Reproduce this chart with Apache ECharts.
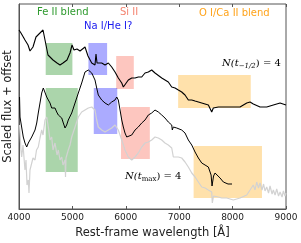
<!DOCTYPE html>
<html><head><meta charset="utf-8">
<script src="https://cdn.jsdelivr.net/npm/echarts@6/dist/echarts.min.js"></script>
<style>html,body{margin:0;padding:0;background:#fff}#c{width:301px;height:243px}</style>
</head><body><div id="c"></div>
<script>
// Spectrum at t_{-1/2} (top, black)
const topWave = [4000,4037,4112,4169,4206,4262,4318,4393,4450,4487,4543,4637,4712,4768,4824,4899,4955,4993,5030,5086,5143,5236,5292,5362,5423,5442,5461,5485,5549,5611,5673,5736,5798,5860,5924,5954,5985,6047,6111,6173,6234,6298,6360,6422,6485,6547,6673,6796,6860,6890,6922,6984,7047,7109,7171,7235,7297,7422,7546,7609,7639,7733,7858,7890,8014,8139,8265,8327,8388,8514,8639,8763,8889,9000];
const topFlux = [179,176,169,164,158,162,172,176,179,169,154,149,146,144,146,149,156,164,159,160,158,162,153,146,144,155,146,147,146,144,146,142,137,131,126,122,124,129,131,131,132,132,136,137,139,136,131,127,122,121,121,119,117,114,109,109,108,106,104,97,101,102,102,101,102,102,106,107,105,102,102,104,106,104];
// Spectrum at t_max (middle, black)
const midWave = [4010,4019,4080,4112,4144,4174,4206,4238,4300,4332,4361,4393,4425,4455,4487,4519,4549,4581,4612,4642,4674,4706,4736,4800,4830,4862,4893,4923,4987,5049,5111,5174,5236,5298,5362,5423,5455,5485,5549,5611,5673,5736,5798,5830,5860,5892,5924,5954,5985,6017,6047,6111,6173,6234,6298,6360,6422,6485,6547,6609,6673,6734,6796,6860,6871,6890,6922,6954,6984,7047,7109,7171,7235,7297,7359,7422,7484,7546,7597,7615,7643,7671,7703,7765,7827,7858,7914,7989];
const midFlux = [112,92,72,66,62,66,66,72,79,86,96,106,116,121,119,112,109,106,101,99,101,97,94,91,86,81,84,89,96,106,116,126,137,139,136,129,121,114,109,106,104,107,109,112,109,99,89,82,76,72,71,74,79,82,86,89,94,96,99,97,94,91,87,84,79,82,84,81,82,79,76,69,64,57,51,46,44,42,34,23,33,36,37,31,27,26,25,25];
// Comparison spectrum (light grey)
const greyWave = [4010,4019,4037,4050,4075,4112,4131,4150,4174,4187,4206,4238,4262,4300,4328,4361,4393,4425,4450,4487,4519,4549,4581,4612,4637,4674,4712,4736,4768,4800,4824,4862,4871,4880,4923,4955,4987,5011,5049,5111,5174,5236,5298,5362,5423,5455,5485,5549,5611,5673,5736,5798,5830,5860,5924,5985,6047,6111,6173,6234,6298,6360,6422,6485,6547,6609,6673,6734,6796,6860,6890,6922,6984,7047,7109,7171,7235,7297,7359,7422,7484,7546,7609,7620,7643,7671,7733,7796,7890,8014,8139,8265,8327,8388,8420,8451,8485,8514,8551,8580,8607,8639,8673,8701,8739,8763,8795,8826,8860,8889,8926,8951,8982,9000];
const greyFlux = [84,76,59,52,64,39,49,24,29,16,39,39,51,49,59,62,71,79,74,89,92,82,69,72,59,66,54,59,49,52,44,49,32,51,59,64,72,74,82,92,97,99,101,102,99,89,82,79,77,79,81,84,82,79,69,59,52,49,52,56,62,66,67,69,72,71,69,66,64,61,52,54,52,51,47,42,36,32,27,22,21,19,17,6,13,14,12,11,11,9,11,14,19,24,19,27,21,26,19,25,18,22,16,23,15,19,14,20,13,17,12,18,13,16];
// Feature boxes
const boxX1 = [4500,5300,5820,6980,4500,5400,5910,7270];
const boxX2 = [5000,5650,6150,8340,5100,5840,6450,8550];
const boxY1 = [134,134,120,101,37,75,50,11];
const boxY2 = [166,166,153,134,121,121,102,63];
const boxKind = ['fe','na','si','o','fe','na','si','o'];
const xTicks = [4000,5000,6000,7000,8000,9000];

const boxColor = {fe:'rgba(0,128,0,0.33)', na:'rgba(0,0,255,0.33)', si:'rgba(250,128,114,0.45)', o:'rgba(255,165,0,0.33)'};
const zip = (a,b)=>a.map((v,i)=>[v,b[i]]);

const chart = echarts.init(document.getElementById('c'), null, {renderer:'canvas'});
const areas = boxX1.map((x,i)=>[{coord:[x,boxY1[i]], itemStyle:{color:boxColor[boxKind[i]]}},{coord:[boxX2[i],boxY2[i]]}]);
const font = 'DejaVu Sans';
chart.setOption({
  animation:false,
  grid:{left:19,right:15,top:4,bottom:34,show:true,borderColor:'#555',borderWidth:1,containLabel:false,outerBoundsMode:'none'},
  xAxis:[{type:'value',min:xTicks[0],max:xTicks[xTicks.length-1],interval:1000,
    axisLine:{show:true,lineStyle:{color:'#555'}},
    axisTick:{show:true,inside:true,length:3,lineStyle:{color:'#555'}},
    axisLabel:{fontFamily:font,fontSize:9,color:'#222',margin:4,formatter:v=>String(v)},
    splitLine:{show:false},
    name:'Rest-frame wavelength [Å]',nameLocation:'middle',nameGap:16,
    nameTextStyle:{fontFamily:font,fontSize:11.5,color:'#222'}},
   {type:'value',position:'top',min:xTicks[0],max:xTicks[xTicks.length-1],interval:1000,
    axisLine:{show:false},axisTick:{show:true,inside:true,length:3,lineStyle:{color:'#555'}},
    axisLabel:{show:false},splitLine:{show:false}}],
  yAxis:{type:'value',min:0,max:205,axisLine:{show:true,lineStyle:{color:'#555'}},axisTick:{show:false},axisLabel:{show:false},splitLine:{show:false},
    name:'Scaled flux + offset',nameLocation:'middle',nameGap:5,
    nameTextStyle:{fontFamily:font,fontSize:11.5,color:'#222'}},
  series:[
    {type:'line',data:[],z:1,markArea:{silent:true,data:areas}},
    {type:'line',data:zip(greyWave,greyFlux),symbol:'none',z:2,lineStyle:{color:'#d2d2d2',width:1.2}},
    {type:'line',data:zip(midWave,midFlux),symbol:'none',z:3,lineStyle:{color:'#000',width:1}},
    {type:'line',data:zip(topWave,topFlux),symbol:'none',z:3,lineStyle:{color:'#000',width:1.1}}
  ],
  graphic:[
    {type:'text',left:37,top:7,style:{text:'Fe II blend',font:'10px DejaVu Sans',fill:'#2e9a2e'}},
    {type:'text',left:120,top:7,style:{text:'Si II',font:'10px DejaVu Sans',fill:'#f4836f'}},
    {type:'text',left:84,top:21,style:{text:'Na I/He I?',font:'10px DejaVu Sans',fill:'#1a1aee'}},
    {type:'text',left:199,top:8,style:{text:'O I/Ca II blend',font:'10px DejaVu Sans',fill:'#ffa31a'}},
    {type:'text',left:222,top:58,style:{rich:{i:{fontFamily:'DejaVu Serif',fontStyle:'italic',fontSize:10,color:'#222'},s:{fontFamily:'DejaVu Serif',fontStyle:'italic',fontSize:7,color:'#222',padding:[6,0,0,0]},n:{fontFamily:'DejaVu Serif',fontSize:10,color:'#222'}},text:'{i|N(t}{s|−1/2}{n|)}{n| = 4}'}},
    {type:'text',left:125,top:171,style:{rich:{i:{fontFamily:'DejaVu Serif',fontStyle:'italic',fontSize:10,color:'#222'},s:{fontFamily:'DejaVu Serif',fontSize:7,color:'#222',padding:[6,0,0,0]},n:{fontFamily:'DejaVu Serif',fontSize:10,color:'#222'}},text:'{i|N(t}{s|max}{n|)}{n| = 4}'}}
  ]
});
</script></body></html>
